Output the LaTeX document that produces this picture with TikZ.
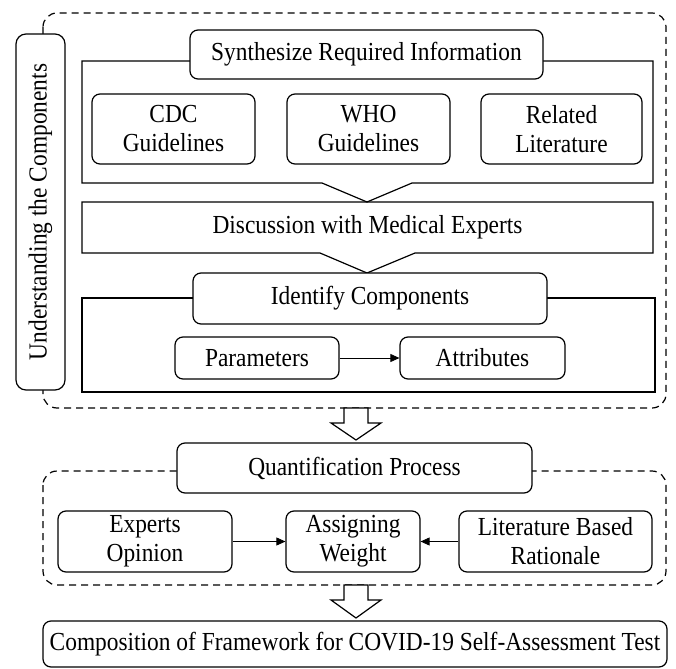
\documentclass[tikz,border=0pt]{standalone}
\usepackage{fontspec}
\setmainfont[FakeStretch=0.9]{Liberation Serif}
\usetikzlibrary{arrows.meta}
\begin{document}
\begin{tikzpicture}[x=1pt,y=-1pt, line width=1.2pt,
  txt/.style={font=\fontsize{26}{29}\selectfont},
  rbox/.style={draw, fill=white, rounded corners=8pt, inner sep=0pt, align=center, txt},
  dbox/.style={draw, dash pattern=on 7pt off 5pt, rounded corners=14pt},
  hollow/.style={draw, fill=white, line width=1.2pt},
  conn/.style={line width=0.8pt, -{Triangle[length=9pt,width=8pt]}}]
\useasboundingbox[fill=white] (0,0) rectangle (676,668);
% outer dashed region
\draw[dbox] (43,13) rectangle (666,408);
\node[rbox, rotate=90, rounded corners=10pt, minimum width=356pt, minimum height=49pt] (vert) at (40.5,212) {Understanding the Components};
% frame 1
\draw (82,61) -- (653,61) -- (653,183) -- (412,183) -- (367,202) -- (322,183) -- (82,183) -- cycle;
\node[rbox, minimum width=353pt, minimum height=49pt] (synth) at (366.5,54.5) {Synthesize Required Information};
\node[rbox, minimum width=163pt, minimum height=70pt] (cdc) at (173.5,129) {CDC\\Guidelines};
\node[rbox, minimum width=163pt, minimum height=70pt] (who) at (368.5,129) {WHO\\Guidelines};
\node[rbox, minimum width=161pt, minimum height=70pt] (rel) at (561.5,129) {Related\\Literature};
% discussion band
\draw (82,202) -- (653,202) -- (653,253) -- (415,253) -- (367,273) -- (320,253) -- (82,253) -- cycle;
\node[txt] (disc) at (367.5,227.5) {Discussion with Medical Experts};
% frame 3
\draw (82,298) -- (655,298) -- (655,392) -- (82,392) -- cycle;
\node[rbox, minimum width=354pt, minimum height=51pt] (ident) at (370,298.5) {Identify Components};
\node[rbox, minimum width=164pt, minimum height=42pt] (params) at (257,358) {Parameters};
\node[rbox, minimum width=165pt, minimum height=42pt] (attrs) at (482.5,358) {Attributes};
\draw[conn] (params) -- (attrs);
% hollow arrow 1
\draw[hollow] (344,408) -- (368,408) -- (368,423) -- (381,423) -- (356,440) -- (331,423) -- (344,423) -- cycle;
% quantification
\draw[dbox] (43,471) rectangle (666,585);
\node[rbox, minimum width=355pt, minimum height=50pt] (quant) at (354.5,468) {Quantification Process};
\node[rbox, minimum width=174pt, minimum height=61pt] (experts) at (145,541.5) {Experts\\Opinion};
\node[rbox, minimum width=134pt, minimum height=61pt] (assign) at (353,541.5) {Assigning\\Weight};
\node[rbox, minimum width=193pt, minimum height=61pt] (lit) at (555.5,541.5) {Literature Based\\Rationale};
\draw[conn] (experts) -- (assign);
\draw[conn] (lit) -- (assign);
% hollow arrow 2
\draw[hollow] (344,585) -- (368,585) -- (368,600) -- (381,600) -- (356,618) -- (331,600) -- (344,600) -- cycle;
\node[rbox, minimum width=624pt, minimum height=46pt] (comp) at (355,644) {Composition of Framework for COVID-19 Self-Assessment Test};
\end{tikzpicture}
\end{document}
